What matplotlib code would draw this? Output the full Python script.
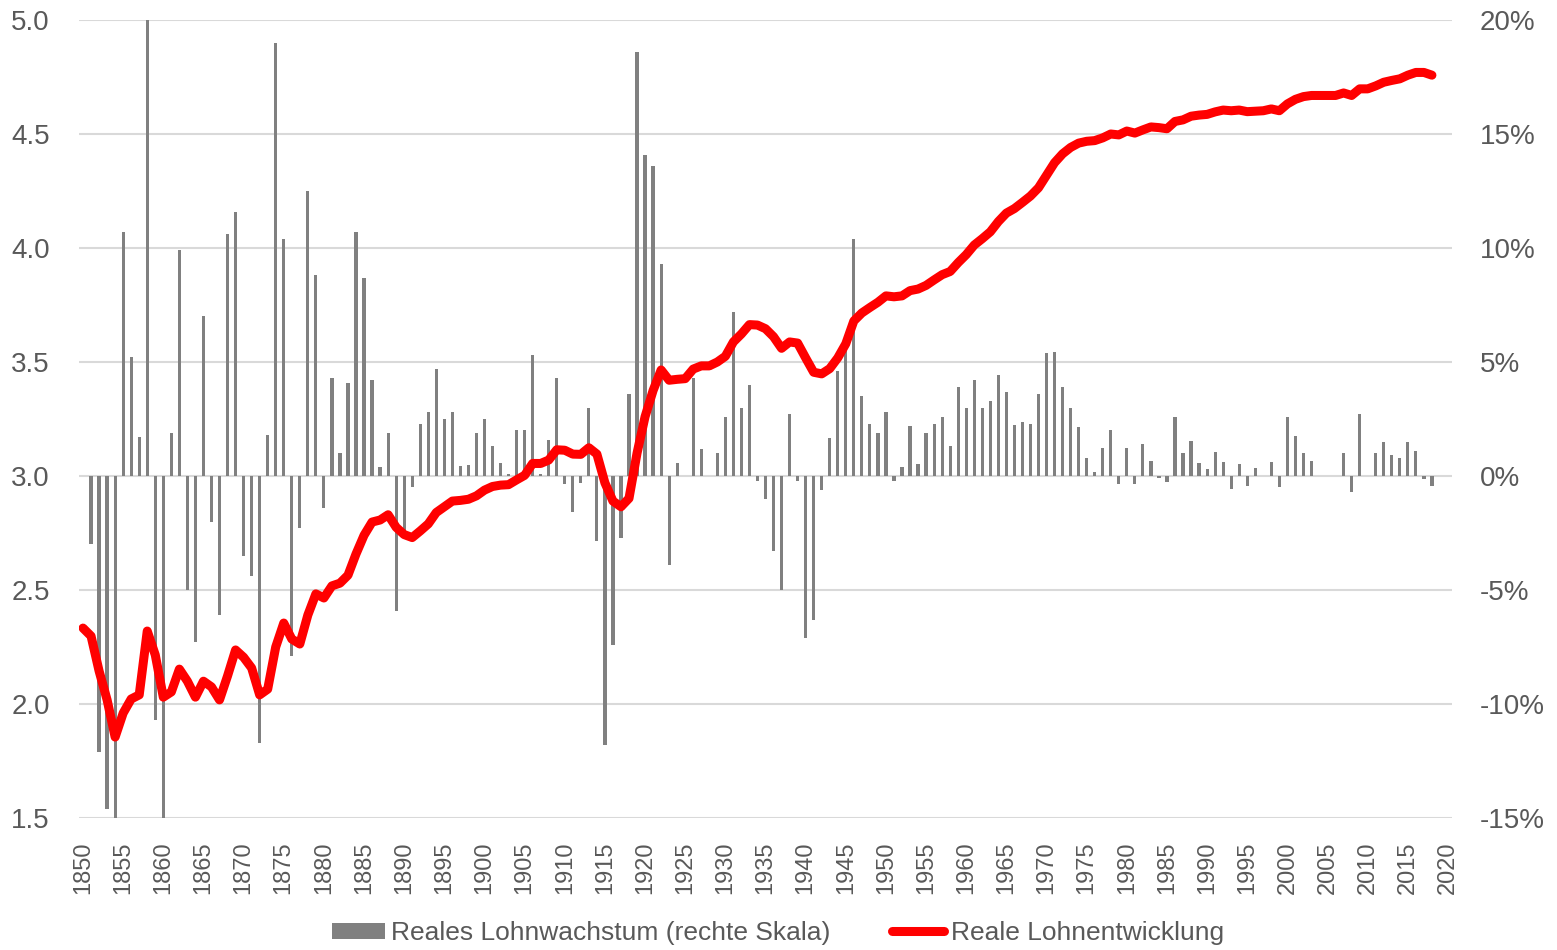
import numpy as np
import matplotlib
matplotlib.use("Agg")
import matplotlib.pyplot as plt
from matplotlib.ticker import FuncFormatter, MultipleLocator
from matplotlib.patches import Patch
from matplotlib.lines import Line2D

plt.rcParams['font.family'] = ['Liberation Sans', 'DejaVu Sans']
plt.rcParams['axes.unicode_minus'] = False

# years of the red line (1850-2018), bars start one year later
years_line = list(range(1850, 2019))
years_bar = list(range(1851, 2019))

# real wage growth in % (right scale), 1851-2018
growth = [
    -3.0, -12.1, -14.6, -16.0, 10.7, 5.2, 1.7, 20.5, -10.7,            # 1851-59
    -16.0, 1.9, 9.9, -5.0, -7.3, 7.0, -2.0, -6.1, 10.6, 11.6,          # 1860-69
    -3.5, -4.4, -11.7, 1.8, 19.0, 10.4, -7.9, -2.3, 12.5, 8.8,         # 1870-79
    -1.4, 4.3, 1.0, 4.1, 10.7, 8.7, 4.2, 0.4, 1.9, -5.9,               # 1880-89
    -2.4, -0.5, 2.3, 2.8, 4.7, 2.5, 2.8, 0.45, 0.5, 1.9,               # 1890-99
    2.5, 1.3, 0.55, 0.1, 2.0, 2.0, 5.3, 0.1, 1.6, 4.3,                 # 1900-09
    -0.35, -1.6, -0.3, 3.0, -2.85, -11.8, -7.4, -2.7, 3.6, 18.6,       # 1910-19
    14.1, 13.6, 9.3, -3.9, 0.55, 0.0, 4.3, 1.2, 0.0, 1.0,              # 1920-29
    2.6, 7.2, 3.0, 4.0, -0.23, -1.0, -3.3, -5.0, 2.7, -0.23,           # 1930-39
    -7.1, -6.3, -0.6, 1.65, 4.6, 5.5, 10.4, 3.5, 2.3, 1.9,             # 1940-49
    2.8, -0.23, 0.4, 2.2, 0.53, 1.9, 2.3, 2.6, 1.3, 3.9,               # 1950-59
    3.0, 4.2, 3.0, 3.3, 4.45, 3.7, 2.25, 2.35, 2.3, 3.6,               # 1960-69
    5.4, 5.45, 3.9, 3.0, 2.15, 0.77, 0.17, 1.24, 2.0, -0.35,           # 1970-79
    1.25, -0.35, 1.4, 0.67, -0.1, -0.27, 2.6, 1.0, 1.55, 0.56,         # 1980-89
    0.3, 1.05, 0.63, -0.58, 0.52, -0.45, 0.36, -0.02, 0.63, -0.5,      # 1990-99
    2.57, 1.74, 1.0, 0.64, 0.0, 0.0, 0.0, 1.0, -0.7, 2.7,              # 2000-09
    0.0, 1.0, 1.5, 0.94, 0.78, 1.5, 1.1, -0.14, -0.45,                 # 2010-18
]

# real wage development (left scale), 1850-2018
wage = [
    2.333, 2.298, 2.145, 2.018, 1.855, 1.96, 2.022, 2.04, 2.32, 2.215,      # 1850-59
    2.03, 2.053, 2.153, 2.1, 2.03, 2.1, 2.075, 2.018, 2.123, 2.237,         # 1860-69
    2.205, 2.158, 2.04, 2.065, 2.25, 2.355, 2.285, 2.263, 2.39, 2.483,      # 1870-79
    2.465, 2.518, 2.53, 2.565, 2.658, 2.74, 2.798, 2.807, 2.83, 2.775,      # 1880-89
    2.743, 2.73, 2.759, 2.79, 2.84, 2.865, 2.89, 2.893, 2.898, 2.913,       # 1890-99
    2.938, 2.954, 2.96, 2.962, 2.983, 3.003, 3.055, 3.055, 3.07, 3.115,     # 1900-09
    3.113, 3.096, 3.095, 3.124, 3.096, 2.97, 2.89, 2.865, 2.902, 3.1,       # 1910-19
    3.26, 3.375, 3.465, 3.42, 3.424, 3.427, 3.469, 3.483, 3.483, 3.5,       # 1920-29
    3.525, 3.588, 3.623, 3.664, 3.662, 3.646, 3.611, 3.56, 3.588, 3.583,    # 1930-39
    3.518, 3.455, 3.448, 3.471, 3.518, 3.58, 3.68, 3.715, 3.739, 3.762,     # 1940-49
    3.79, 3.786, 3.79, 3.813, 3.82, 3.836, 3.86, 3.883, 3.897, 3.936,       # 1950-59
    3.971, 4.013, 4.041, 4.071, 4.116, 4.153, 4.173, 4.2, 4.228, 4.264,     # 1960-69
    4.319, 4.374, 4.413, 4.441, 4.46, 4.468, 4.471, 4.483, 4.5, 4.496,      # 1970-79
    4.513, 4.504, 4.518, 4.531, 4.528, 4.523, 4.555, 4.562, 4.578, 4.583,   # 1980-89
    4.586, 4.597, 4.605, 4.602, 4.605, 4.598, 4.6, 4.602, 4.61, 4.602,      # 1990-99
    4.632, 4.652, 4.664, 4.669, 4.669, 4.669, 4.669, 4.68, 4.669, 4.698,    # 2000-09
    4.698, 4.711, 4.727, 4.735, 4.742, 4.758, 4.77, 4.77, 4.758,            # 2010-18
]

xticks = list(range(1850, 2021, 5))
left_ticks = [1.5, 2.0, 2.5, 3.0, 3.5, 4.0, 4.5, 5.0]

TXT = '#595959'
GRID = '#d9d9d9'
BAR = '#808080'
RED = '#ff0000'

fig = plt.figure(figsize=(15.57, 9.5), dpi=100)
ax = fig.add_axes([79/1557, 1 - 818/950, (1452 - 79)/1557, (818 - 20)/950])
ax2 = ax.twinx()

# bars on the base axes (right scale), line on twin axes (left scale) so it sits on top
ax.bar(years_bar, growth, width=0.4, color=BAR, zorder=2)
ax.set_ylim(-15, 20)
ax.yaxis.tick_right()
ax.yaxis.set_major_locator(MultipleLocator(5))
ax.yaxis.set_major_formatter(FuncFormatter(lambda v, p: '%d%%' % round(v)))

ax2.plot(years_line, wage, color=RED, lw=6.5, solid_capstyle='round', solid_joinstyle='round', zorder=3)
ax2.set_ylim(1.5, 5.0)
ax2.yaxis.tick_left()
ax2.set_yticks(left_ticks)
ax2.set_yticklabels(['%.1f' % v for v in left_ticks])

for t in left_ticks:
    ax.axhline((t - 3.0) * 10, color=GRID, lw=1.5, zorder=1)

ax.set_xlim(1849.5, 2020.5)
ax.set_xticks(xticks)
ax.set_xticklabels([str(y) for y in xticks], rotation=90)

for a in (ax, ax2):
    for s in a.spines.values():
        s.set_visible(False)
    a.tick_params(length=0, colors=TXT)

ax.tick_params(axis='x', labelsize=17, pad=17)
ax.tick_params(axis='y', labelsize=20, pad=20)
ax2.tick_params(axis='y', labelsize=20, pad=21)

handles = [
    Patch(facecolor=BAR, edgecolor='none'),
    Line2D([0], [0], color=RED, lw=6.5, solid_capstyle='round'),
]
labels = ['Reales Lohnwachstum (rechte Skala)', 'Reale Lohnentwicklung']
leg = fig.legend(handles, labels, loc='center', bbox_to_anchor=(0.4997, 0.018), ncol=2,
                 frameon=False, fontsize=19, handlelength=2.0, handleheight=0.55,
                 handletextpad=0.25, columnspacing=2.3, borderaxespad=0)
for t in leg.get_texts():
    t.set_color(TXT)

fig.savefig('out.png', dpi=100)
